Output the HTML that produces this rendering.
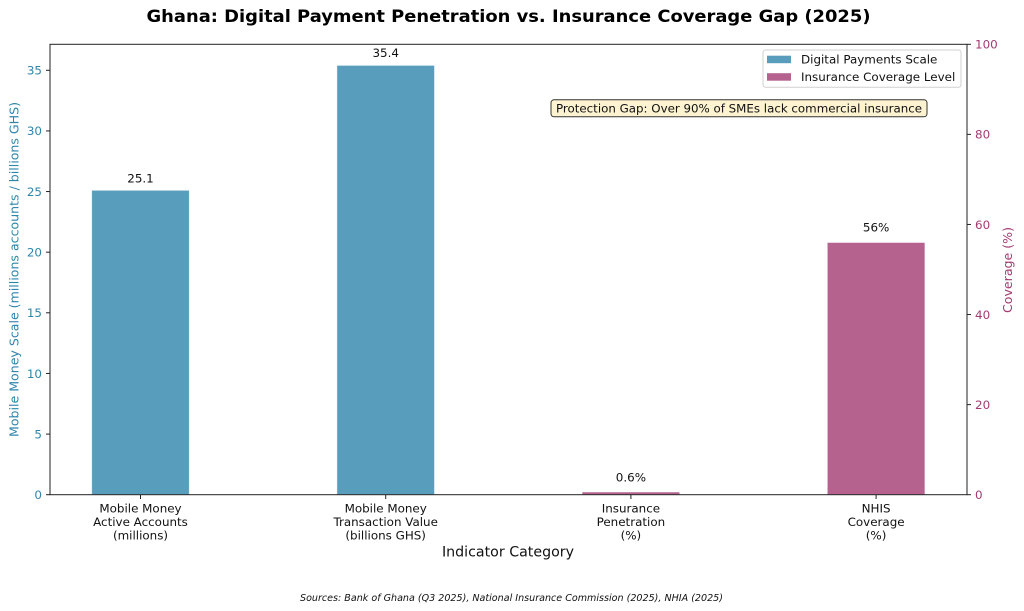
<!DOCTYPE html>
<html><head><meta charset="utf-8"><style>
html,body{margin:0;padding:0;background:#fff;}
svg{display:block;font-family:"DejaVu Sans","Liberation Sans",sans-serif;}
</style></head><body>
<svg width="1024" height="611" viewBox="0 0 1024 611" xmlns="http://www.w3.org/2000/svg">
<rect width="1024" height="611" fill="#fff"/>
<!-- title -->
<text x="508.5" y="22" text-anchor="middle" font-size="16.7" font-weight="bold" fill="#000" textLength="724" lengthAdjust="spacingAndGlyphs">Ghana: Digital Payment Penetration vs. Insurance Coverage Gap (2025)</text>

<!-- bars -->
<g stroke="#ffffff" stroke-opacity="0.6" stroke-width="0.8">
<rect x="91.7" y="190.3" width="97.6" height="304.4" fill="#589ebc"/>
<rect x="336.9" y="65.4" width="97.6" height="429.3" fill="#589ebc"/>
<rect x="582.1" y="492" width="97.6" height="2.7" fill="#b5628e"/>
<rect x="827.3" y="242.5" width="97.6" height="252.2" fill="#b5628e"/>
</g>

<!-- value labels -->
<g font-size="11.9" fill="#111" text-anchor="middle">
<text x="140.5" y="182.5">25.1</text>
<text x="385.7" y="57">35.4</text>
<text x="630.9" y="481.5">0.6%</text>
<text x="876.1" y="231.5">56%</text>
</g>

<!-- spines -->
<rect x="50" y="44.3" width="917" height="450.4" fill="none" stroke="#222" stroke-width="1"/>

<!-- left ticks -->
<g stroke="#222" stroke-width="1">
<line x1="46" y1="494.7" x2="50" y2="494.7"/>
<line x1="46" y1="434.07" x2="50" y2="434.07"/>
<line x1="46" y1="373.44" x2="50" y2="373.44"/>
<line x1="46" y1="312.81" x2="50" y2="312.81"/>
<line x1="46" y1="252.18" x2="50" y2="252.18"/>
<line x1="46" y1="191.55" x2="50" y2="191.55"/>
<line x1="46" y1="130.92" x2="50" y2="130.92"/>
<line x1="46" y1="70.29" x2="50" y2="70.29"/>
<!-- right ticks -->
<line x1="967" y1="494.7" x2="971" y2="494.7"/>
<line x1="967" y1="404.62" x2="971" y2="404.62"/>
<line x1="967" y1="314.54" x2="971" y2="314.54"/>
<line x1="967" y1="224.46" x2="971" y2="224.46"/>
<line x1="967" y1="134.38" x2="971" y2="134.38"/>
<line x1="967" y1="44.3" x2="971" y2="44.3"/>
<!-- x ticks -->
<line x1="140.5" y1="494.7" x2="140.5" y2="499"/>
<line x1="385.7" y1="494.7" x2="385.7" y2="499"/>
<line x1="630.9" y1="494.7" x2="630.9" y2="499"/>
<line x1="876.1" y1="494.7" x2="876.1" y2="499"/>
</g>

<!-- left tick labels -->
<g font-size="11.9" fill="#2E86AB" text-anchor="end">
<text x="42" y="499">0</text>
<text x="42" y="438.4">5</text>
<text x="42" y="377.8">10</text>
<text x="42" y="317.1">15</text>
<text x="42" y="256.5">20</text>
<text x="42" y="195.9">25</text>
<text x="42" y="135.2">30</text>
<text x="42" y="74.6">35</text>
</g>
<!-- right tick labels -->
<g font-size="11.9" fill="#A23B72" text-anchor="start">
<text x="975" y="499">0</text>
<text x="975" y="408.9">20</text>
<text x="975" y="318.8">40</text>
<text x="975" y="228.8">60</text>
<text x="975" y="138.7">80</text>
<text x="975" y="48.6">100</text>
</g>

<!-- axis labels -->
<text transform="translate(18.5,269.5) rotate(-90)" text-anchor="middle" font-size="12.4" fill="#2E86AB" textLength="335" lengthAdjust="spacingAndGlyphs">Mobile Money Scale (millions accounts / billions GHS)</text>
<text transform="translate(1012,270) rotate(-90)" text-anchor="middle" font-size="12.4" fill="#A23B72" textLength="86" lengthAdjust="spacingAndGlyphs">Coverage (%)</text>

<!-- x tick labels -->
<g font-size="11.9" fill="#111" text-anchor="middle">
<text x="140.5" y="512.5">Mobile Money</text>
<text x="140.5" y="526">Active Accounts</text>
<text x="140.5" y="539.5">(millions)</text>
<text x="385.7" y="512.5">Mobile Money</text>
<text x="385.7" y="526">Transaction Value</text>
<text x="385.7" y="539.5">(billions GHS)</text>
<text x="630.9" y="512.5">Insurance</text>
<text x="630.9" y="526">Penetration</text>
<text x="630.9" y="539.5">(%)</text>
<text x="876.1" y="512.5">NHIS</text>
<text x="876.1" y="526">Coverage</text>
<text x="876.1" y="539.5">(%)</text>
</g>

<text x="508" y="556.5" text-anchor="middle" font-size="14.2" fill="#111" textLength="132" lengthAdjust="spacingAndGlyphs">Indicator Category</text>

<!-- annotation -->
<rect x="551" y="99.8" width="376" height="17" rx="3" ry="3" fill="#fdf3d0" stroke="#333" stroke-width="1"/>
<text x="739" y="112.3" text-anchor="middle" font-size="11.9" fill="#111" textLength="366" lengthAdjust="spacingAndGlyphs">Protection Gap: Over 90% of SMEs lack commercial insurance</text>

<!-- legend -->
<rect x="763" y="50" width="198" height="37.3" rx="2.5" ry="2.5" fill="#fff" fill-opacity="0.85" stroke="#d0d0d0" stroke-width="1"/>
<rect x="767" y="55.7" width="24" height="7.5" fill="#589ebc"/>
<rect x="767" y="73.2" width="24" height="7.5" fill="#b5628e"/>
<g font-size="11.9" fill="#111">
<text x="801" y="63.6">Digital Payments Scale</text>
<text x="801" y="81.2">Insurance Coverage Level</text>
</g>

<!-- sources -->
<text x="511.5" y="601" text-anchor="middle" font-size="9.5" font-style="italic" fill="#111" textLength="423" lengthAdjust="spacingAndGlyphs">Sources: Bank of Ghana (Q3 2025), National Insurance Commission (2025), NHIA (2025)</text>
</svg>
</body></html>
